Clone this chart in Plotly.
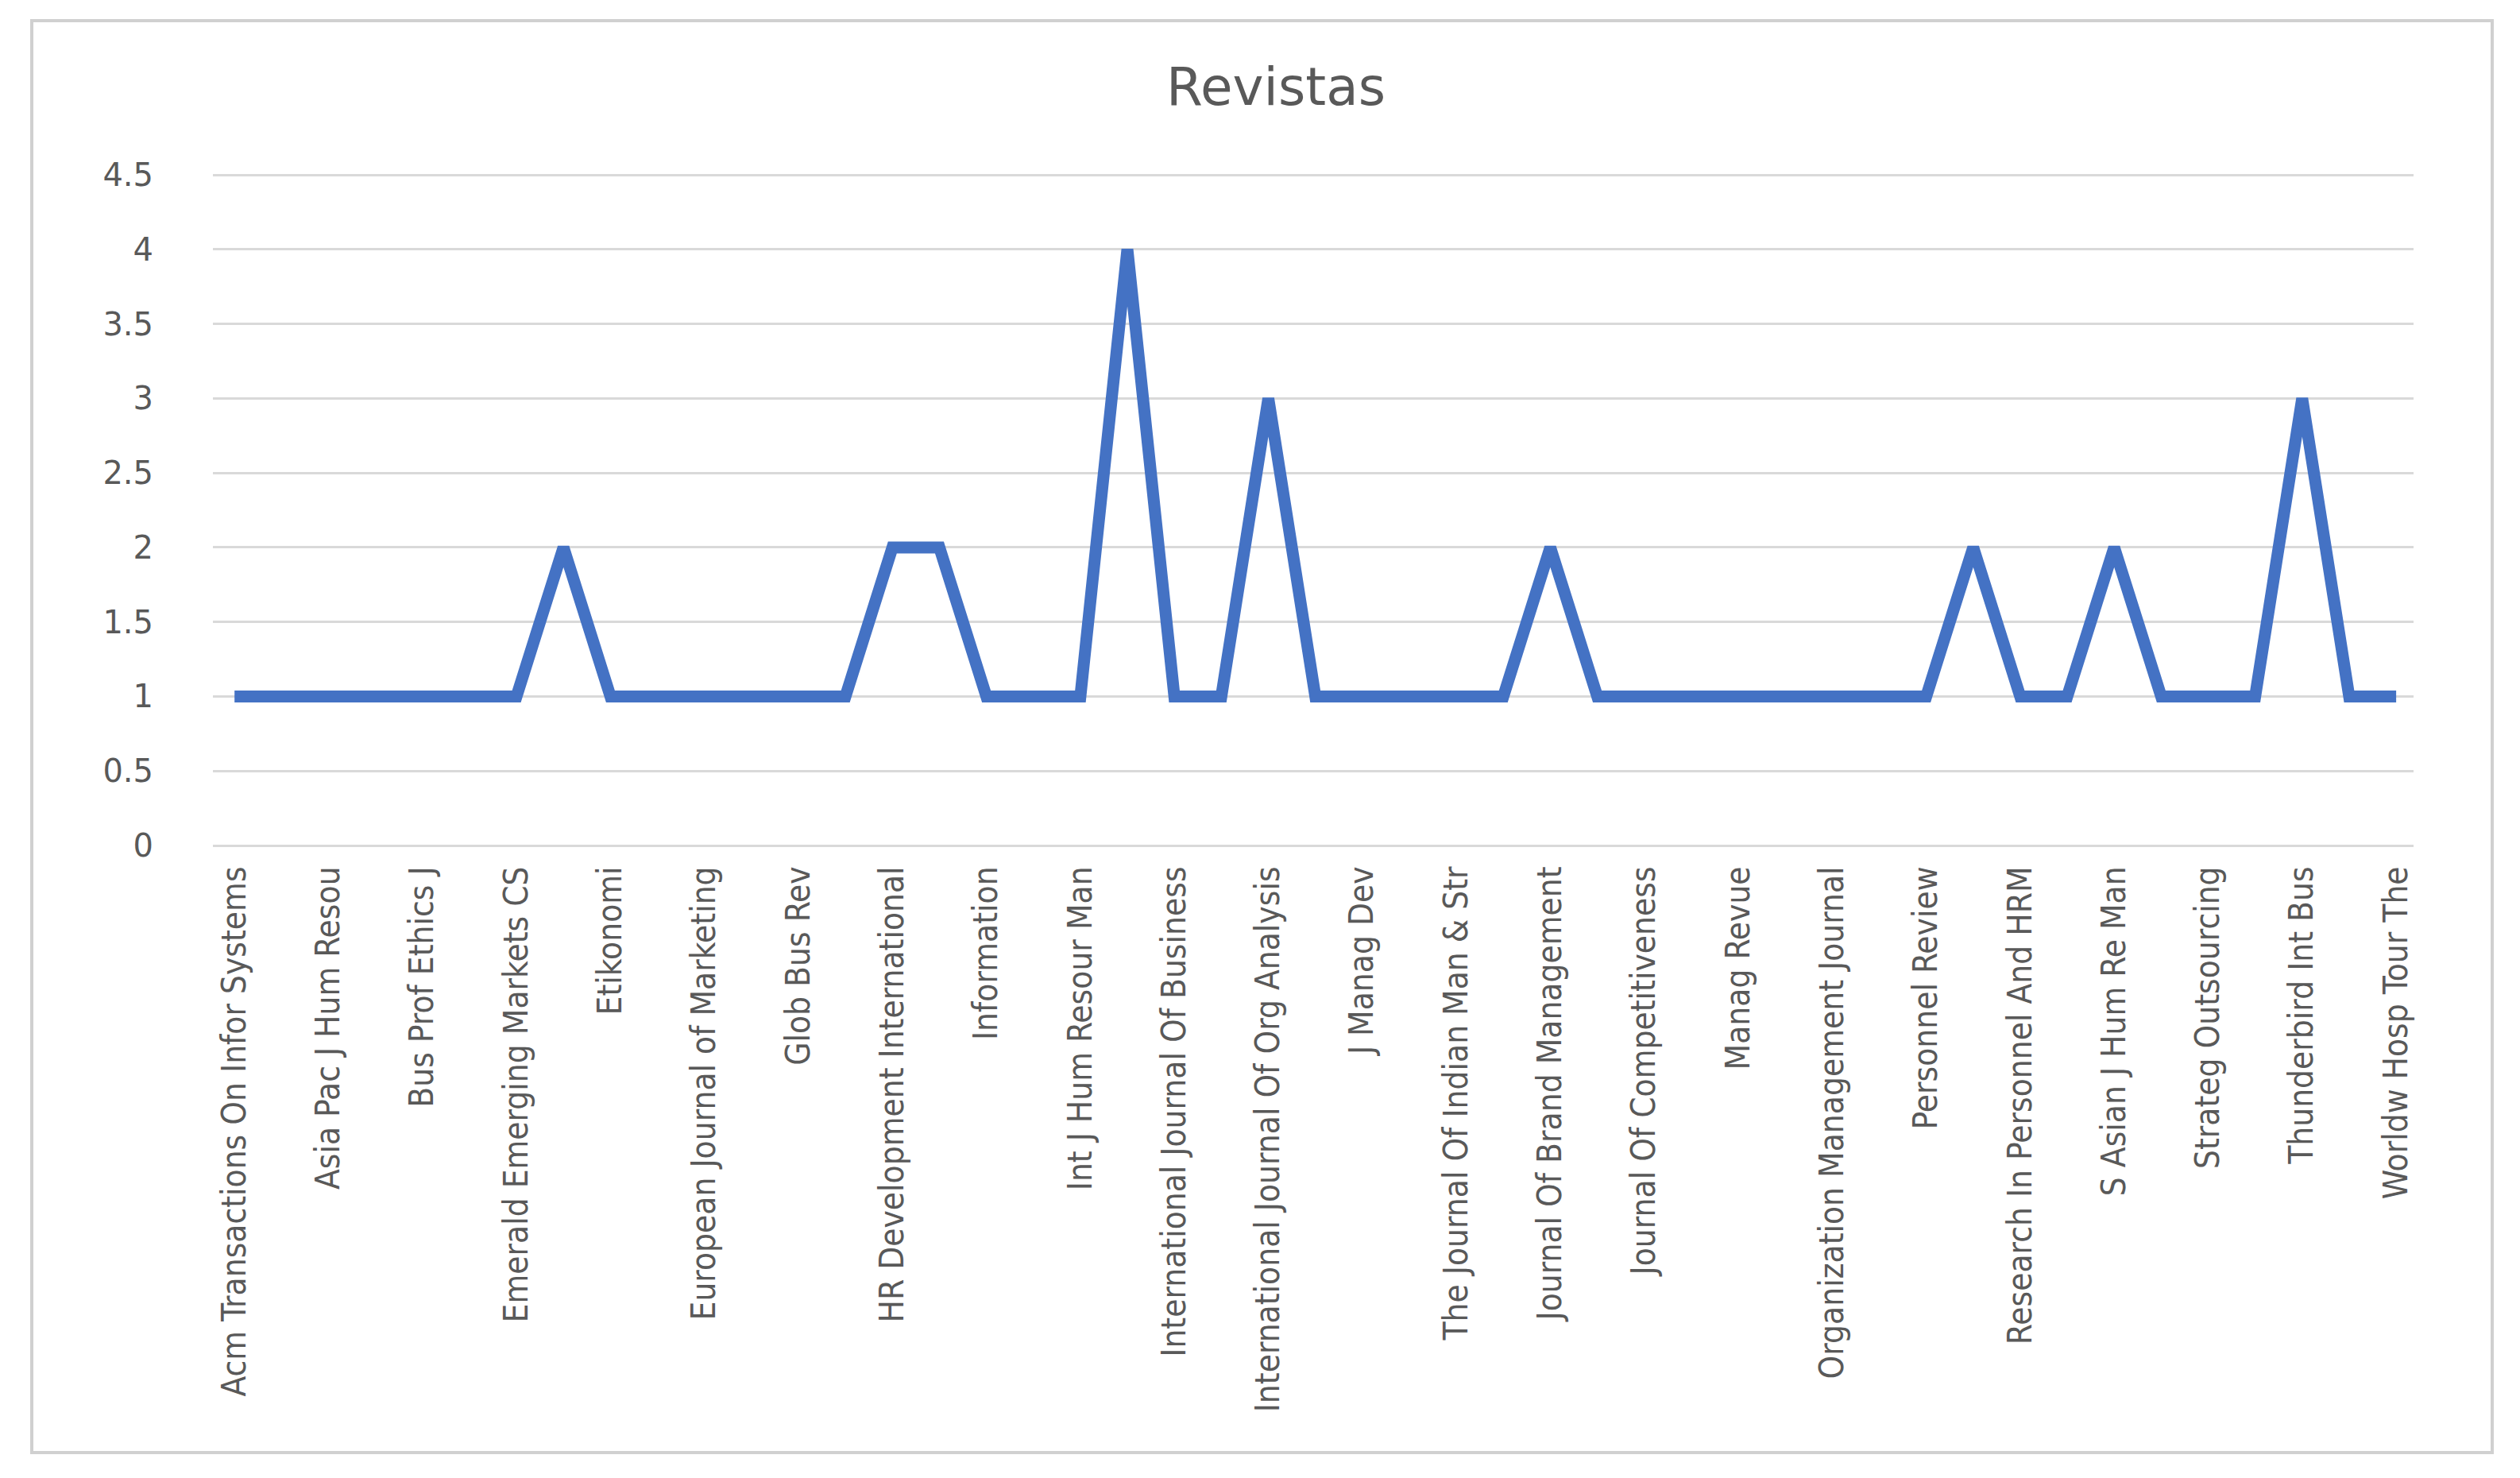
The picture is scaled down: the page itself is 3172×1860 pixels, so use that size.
import plotly.graph_objects as go

# Journal labels shown on the axis (every other category is labelled)
labelled_journals = [
    "Acm Transactions On Infor Systems",
    "Asia Pac J Hum Resou",
    "Bus Prof Ethics J",
    "Emerald Emerging Markets CS",
    "Etikonomi",
    "European Journal of Marketing",
    "Glob Bus Rev",
    "HR Development International",
    "Information",
    "Int J Hum Resour Man",
    "International Journal Of Business",
    "International Journal Of Org Analysis",
    "J Manag Dev",
    "The Journal Of Indian Man & Str",
    "Journal Of Brand Management",
    "Journal Of Competitiveness",
    "Manag Revue",
    "Organization Management Journal",
    "Personnel Review",
    "Research In Personnel And HRM",
    "S Asian J Hum Re Man",
    "Strateg Outsourcing",
    "Thunderbird Int Bus",
    "Worldw Hosp Tour The",
]

# Number of articles per journal (47 journals)
counts = [
    1, 1, 1, 1, 1, 1, 1, 2, 1, 1,
    1, 1, 1, 1, 2, 2, 1, 1, 1, 4,
    1, 1, 3, 1, 1, 1, 1, 1, 2, 1,
    1, 1, 1, 1, 1, 1, 1, 2, 1, 1,
    2, 1, 1, 1, 3, 1, 1,
]

y_ticks = [0, 0.5, 1, 1.5, 2, 2.5, 3, 3.5, 4, 4.5]

x_idx = list(range(len(counts)))
label_step = 2
tick_positions = x_idx[::label_step]

fig = go.Figure()
fig.add_trace(go.Scatter(
    x=x_idx, y=counts, mode="lines",
    line=dict(color="#4472C4", width=15, shape="linear"),
    showlegend=False,
))

W, H = 3172, 1860
PAD = 5  # px of padding so that the 0 and 4.5 gridlines are drawn
L, R, T, B = 260, 142, 212 - PAD, 804 - PAD
PW, PH = W - L - R, H - T - B
y_lo, y_hi = y_ticks[0], y_ticks[-1]
unit = (PH - 2 * PAD) / (y_hi - y_lo)

fig.update_layout(
    width=W, height=H,
    paper_bgcolor="white", plot_bgcolor="white",
    margin=dict(l=L, r=R, t=T, b=B),
    title=dict(
        text="Revistas", x=0.5038, xanchor="center",
        y=1 - 101 / H, yanchor="middle", yref="container",
        font=dict(family="DejaVu Sans", size=66, color="#595959"),
    ),
    xaxis=dict(
        range=[-0.46, len(counts) - 0.63],
        tickmode="array", tickvals=tick_positions, ticktext=labelled_journals,
        tickangle=-90, showgrid=False, zeroline=False, showline=False,
        ticks="", ticklabelstandoff=12,
        tickfont=dict(family="Liberation Sans Narrow, DejaVu Sans Condensed, Arial Narrow, sans-serif",
                      size=42, color="#595959"),
    ),
    yaxis=dict(
        range=[y_lo - PAD / unit, y_hi + PAD / unit], tickmode="array", tickvals=y_ticks,
        showgrid=True, gridcolor="#D9D9D9", gridwidth=3,
        zeroline=False, showline=False, ticks="", ticklabelstandoff=74,
        tickfont=dict(family="DejaVu Sans", size=40, color="#595959"),
    ),
    shapes=[dict(type="rect", xref="paper", yref="paper",
                 x0=(32 - L) / PW, x1=(3129 - L) / PW,
                 y0=((H - B) - 1820) / PH, y1=((H - B) - 18) / PH,
                 line=dict(color="#D0D0D0", width=4), layer="below")],
)

fig.write_html("out.html")
